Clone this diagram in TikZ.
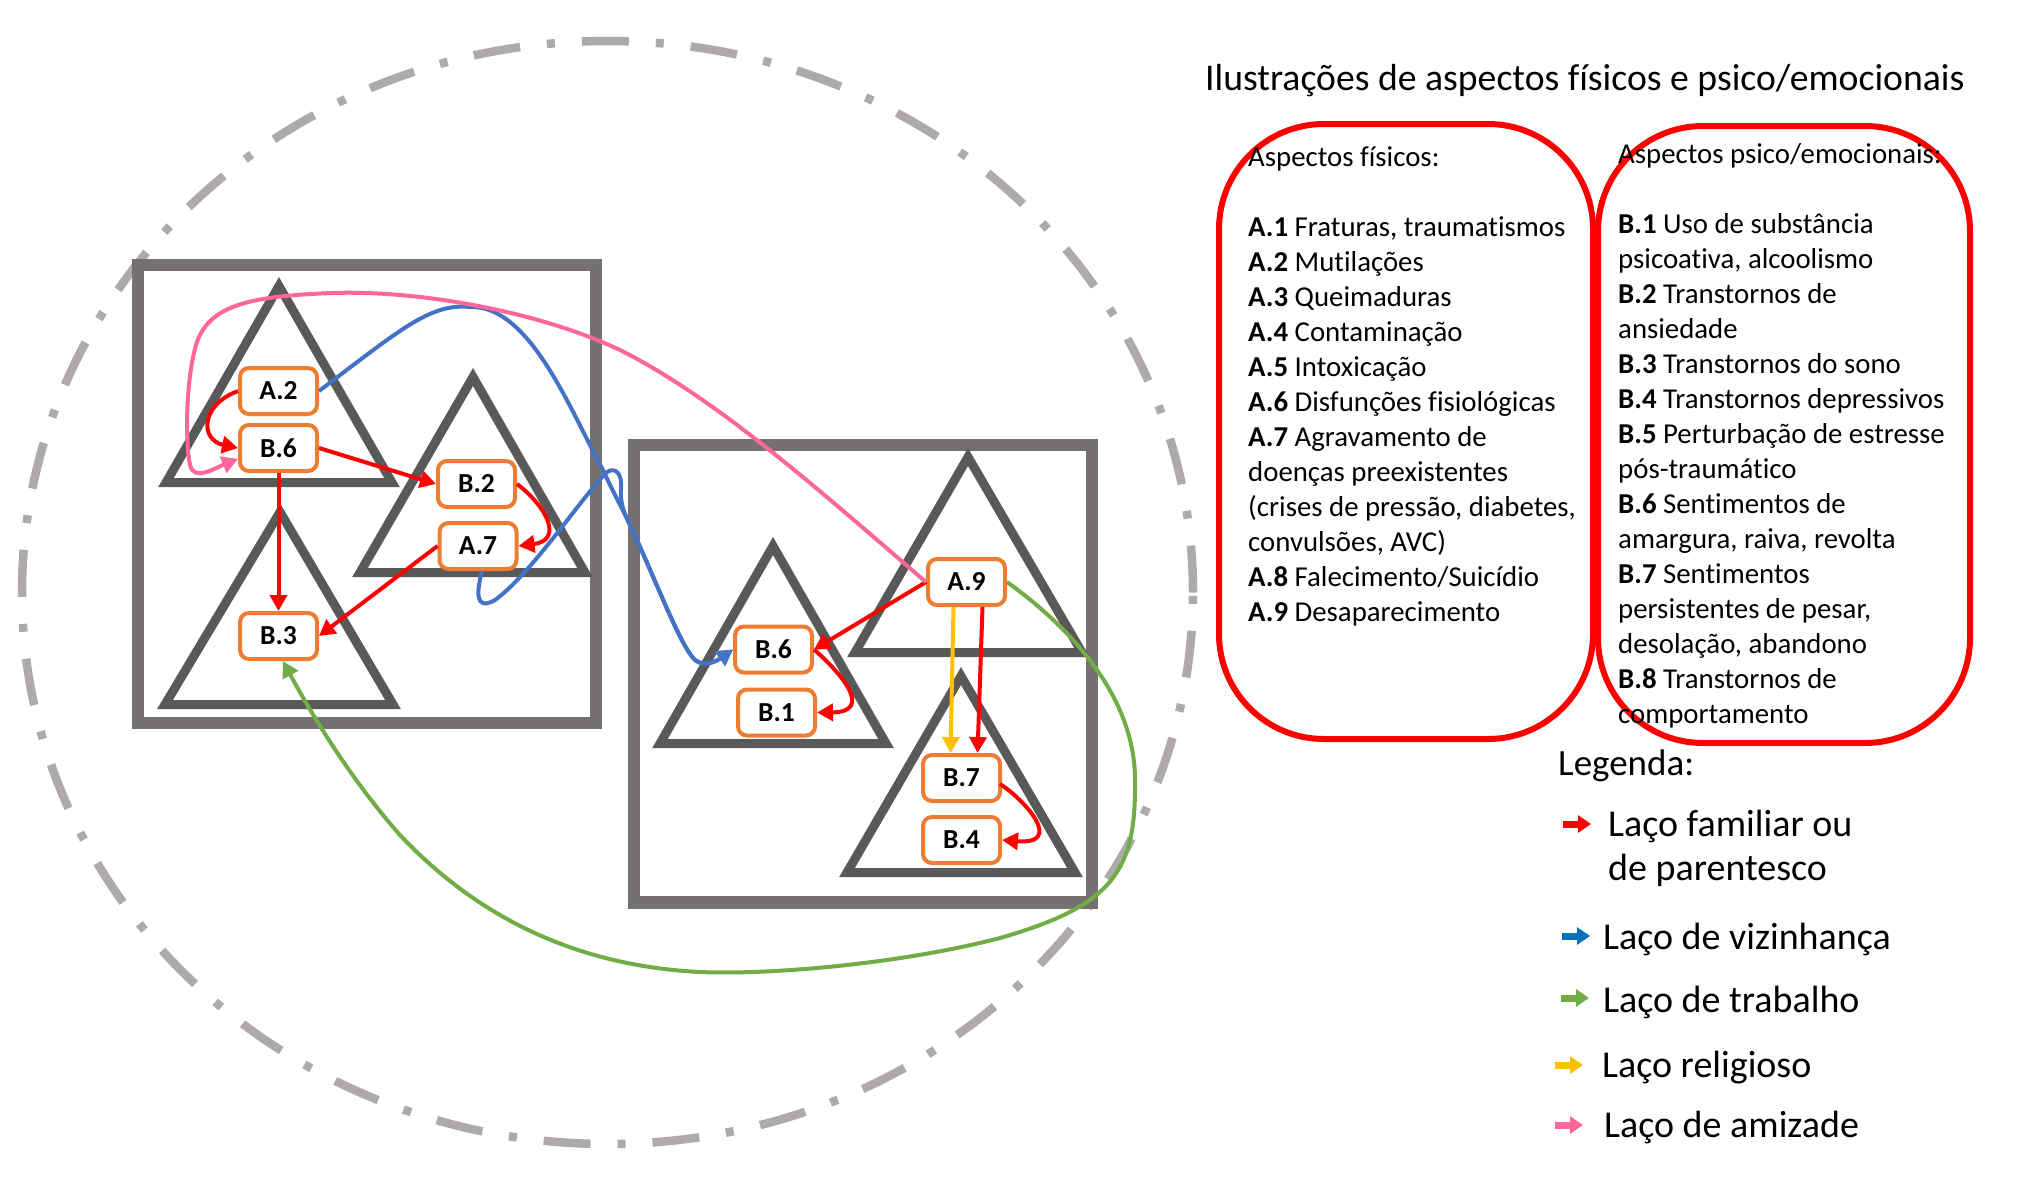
\documentclass[tikz,border=0pt]{standalone}
\usepackage{fontspec}
\setmainfont{Carlito}[Ligatures=NoCommon]
\usetikzlibrary{arrows.meta,calc}
\definecolor{boxgray}{HTML}{767171}
\definecolor{trigray}{HTML}{595959}
\definecolor{ellgray}{HTML}{AEAAAA}
\definecolor{nodeorange}{HTML}{ED7D31}
\definecolor{lnred}{HTML}{FF0000}
\definecolor{lnblue}{HTML}{4472C4}
\definecolor{lngreen}{HTML}{70AD47}
\definecolor{lnyellow}{HTML}{FFC000}
\definecolor{lnpink}{HTML}{FF6699}
\definecolor{legblue}{HTML}{0070C0}
\begin{document}
\begin{tikzpicture}[x=1pt,y=-1pt,
  groupbox/.style={draw=boxgray,line width=12.5pt},
  tri/.style={draw=trigray,line width=9pt},
  aspect/.style={draw=nodeorange,line width=4pt,fill=white,rounded corners=9pt,
    minimum width=77pt,minimum height=46pt,inner sep=0pt,
    font=\fontsize{27.5}{32}\selectfont\bfseries},
  link/.style={line width=4pt,-{Triangle[length=16pt,width=17pt]}},
  legarrow/.style={line width=7pt,-{Triangle[length=13pt,width=17pt]}},
  listbox/.style={draw=lnred,line width=6pt,rounded corners=105pt},
  listtext/.style={anchor=base west,inner sep=0pt,font=\fontsize{28.8}{35}\selectfont},
  legtext/.style={anchor=base west,inner sep=0pt,font=\fontsize{38}{44}\selectfont},
]
\useasboundingbox (0,0) rectangle (2040,1176);
\fill[white] (0,0) rectangle (2040,1176);

% dashed ellipse
\draw[ellgray,line width=8.5pt,dash pattern=on 47pt off 27pt on 8pt off 27pt]
  (607.5,592.5) ellipse [x radius=585.5pt, y radius=551.5pt];

% group boxes
\draw[groupbox] (138,265) rectangle (596,723);
\draw[groupbox] (634,445) rectangle (1092,902.5);

% triangles
\draw[tri] (279,286) -- (392,482.5) -- (166,482.5) -- cycle;
\draw[tri] (473,377) -- (585,572.5) -- (360,572.5) -- cycle;
\draw[tri] (280,512) -- (393,704.5) -- (165,704.5) -- cycle;
\draw[tri] (968,457) -- (1082,652.5) -- (855,652.5) -- cycle;
\draw[tri] (773,546) -- (886,743.5) -- (660,743.5) -- cycle;
\draw[tri] (961,676) -- (1075,872.5) -- (847,872.5) -- cycle;

% aspect nodes
\node[aspect] (A2) at (278.5,391) {A.2};
\node[aspect] (B6a) at (278.5,448) {B.6};
\node[aspect] (B2) at (476.5,484) {B.2};
\node[aspect] (A7) at (478,546) {A.7};
\node[aspect] (B3) at (278.5,636) {B.3};
\node[aspect] (A9) at (966.5,582) {A.9};
\node[aspect] (B6b) at (773.5,649.5) {B.6};
\node[aspect] (B1) at (776.5,712.5) {B.1};
\node[aspect] (B7) at (961.5,778) {B.7};
\node[aspect] (B4) at (961.5,840) {B.4};

% red links
\draw[link,lnred] (A2.west) .. controls (200,405) and (200,440) .. (B6a.west);
\draw[link,lnred] (B6a.east) -- (B2.west);
\draw[link,lnred] (B6a.south) -- (B3.north);
\draw[link,lnred] (B2.east) .. controls (545,505) and (565,540) .. (A7.east);
\draw[link,lnred] (A7.west) -- (B3.east);
\draw[link,lnred] (A9.west) -- (B6b.east);
\draw[link,lnred] (B6b.east) .. controls (840,672) and (875,712) .. (B1.east);
\draw[link,lnred] ($(A9.south)+(16,0)$) -- ($(B7.north)+(16,0)$);
\draw[link,lnred] ($(B7.east)+(-2,6)$) .. controls (1025,800) and (1065,845) .. (B4.east);
% yellow
\draw[link,lnyellow] ($(A9.south)+(-13,0)$) -- ($(B7.north)+(-11,0)$);
% blue
\draw[link,lnblue] (A2.east) .. controls (400,330) and (430,303) .. (470,307)
  .. controls (530,305) and (570,410) .. (603,470)
  .. controls (612,490) and (622,508) .. (631,527)
  .. controls (660,590) and (680,645) .. (695,660)
  .. controls (705,668) and (718,660) .. (B6b.west);
\draw[link,lnblue] ($(A7.south)+(4,0)$) .. controls (477,590) and (474,612) .. (495,600)
  .. controls (530,575) and (580,500) .. (605,474)
  .. controls (612,466) and (623,470) .. (621,490)
  .. controls (620,502) and (624,514) .. (631,527)
  .. controls (660,590) and (680,645) .. (695,660)
  .. controls (705,668) and (718,660) .. (B6b.west);
% pink
\draw[link,lnpink] (A9.west) .. controls (830,500) and (720,400) .. (620,350)
  .. controls (540,312) and (420,290) .. (333,293)
  .. controls (250,296) and (208,305) .. (196,345)
  .. controls (186,380) and (185,440) .. (190,465)
  .. controls (194,482) and (215,468) .. (B6a.195);
% green
\draw[link,lngreen] (A9.east) .. controls (1060,620) and (1135,690) .. (1135,780)
  .. controls (1136,870) and (1115,905) .. (1000,938)
  .. controls (900,964) and (770,975) .. (700,972)
  .. controls (580,966) and (480,920) .. (400,835)
  .. controls (360,790) and (320,730) .. (B3.-80);

% title
\node[anchor=base west,inner sep=0pt,font=\fontsize{37.7}{45}\selectfont] (title) at (1205,90)
  {Ilustrações de aspectos físicos e psico/emocionais};

% list boxes
\draw[listbox] (1219,124) rectangle (1593,739);
\draw[listbox] (1598,126) rectangle (1970,743);

\node[listtext] (physlist) at (1248,166) {\begin{tabular}[t]{@{}l@{}}
Aspectos físicos:\\
\mbox{}\\
\textbf{A.1} Fraturas, traumatismos\\
\textbf{A.2} Mutilações\\
\textbf{A.3} Queimaduras\\
\textbf{A.4} Contaminação\\
\textbf{A.5} Intoxicação\\
\textbf{A.6} Disfunções fisiológicas\\
\textbf{A.7} Agravamento de\\
doenças preexistentes\\
(crises de pressão, diabetes,\\
convulsões, AVC)\\
\textbf{A.8} Falecimento/Suicídio\\
\textbf{A.9} Desaparecimento
\end{tabular}};

\node[listtext] (psylist) at (1618,163) {\begin{tabular}[t]{@{}l@{}}
Aspectos psico/emocionais:\\
\mbox{}\\
\textbf{B.1} Uso de substância\\
psicoativa, alcoolismo\\
\textbf{B.2} Transtornos de\\
ansiedade\\
\textbf{B.3} Transtornos do sono\\
\textbf{B.4} Transtornos depressivos\\
\textbf{B.5} Perturbação de estresse\\
pós-traumático\\
\textbf{B.6} Sentimentos de\\
amargura, raiva, revolta\\
\textbf{B.7} Sentimentos\\
persistentes de pesar,\\
desolação, abandono\\
\textbf{B.8} Transtornos de\\
comportamento
\end{tabular}};

% legend
\node[anchor=base west,inner sep=0pt,font=\fontsize{37}{44}\selectfont] (legtitle) at (1558,775) {Legenda:};
\node[legtext] (leg1) at (1608,836) {\begin{tabular}[t]{@{}l@{}}Laço familiar ou\\de parentesco\end{tabular}};
\node[legtext] (leg2) at (1603,949) {Laço de vizinhança};
\node[legtext] (leg3) at (1603,1012) {Laço de trabalho};
\node[legtext] (leg4) at (1602,1077) {Laço religioso};
\node[legtext] (leg5) at (1604,1137) {Laço de amizade};

\coordinate (l1a) at (1563,824); \coordinate (l1b) at (1591,824);
\coordinate (l2a) at (1562,936); \coordinate (l2b) at (1590,936);
\coordinate (l3a) at (1561,998); \coordinate (l3b) at (1589,998);
\coordinate (l4a) at (1555,1065); \coordinate (l4b) at (1583,1065);
\coordinate (l5a) at (1555,1125); \coordinate (l5b) at (1583,1125);
\draw[legarrow,lnred] (l1a) -- (l1b);
\draw[legarrow,legblue] (l2a) -- (l2b);
\draw[legarrow,lngreen] (l3a) -- (l3b);
\draw[legarrow,lnyellow] (l4a) -- (l4b);
\draw[legarrow,lnpink] (l5a) -- (l5b);
\end{tikzpicture}
\end{document}
